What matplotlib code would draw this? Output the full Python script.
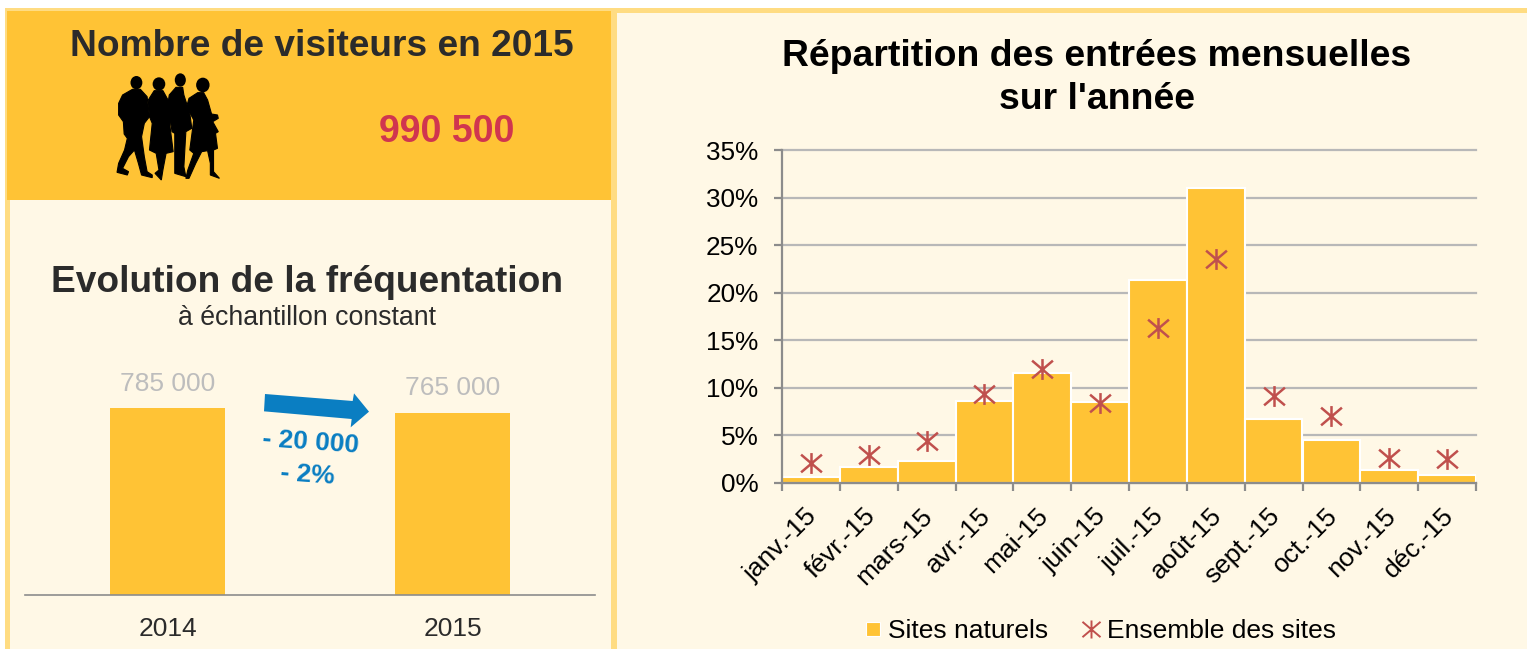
import matplotlib
matplotlib.use('Agg')
import matplotlib.pyplot as plt
from matplotlib.lines import Line2D
from matplotlib.patches import Ellipse, Polygon, Rectangle
from matplotlib.path import Path
from matplotlib.transforms import ScaledTranslation

plt.rcParams['font.family'] = ['Liberation Sans', 'DejaVu Sans']

# Data
months = ['janv.-15', 'févr.-15', 'mars-15', 'avr.-15', 'mai-15', 'juin-15',
          'juil.-15', 'août-15', 'sept.-15', 'oct.-15', 'nov.-15', 'déc.-15']
sites_naturels = [0.6, 1.7, 2.3, 8.6, 11.6, 8.5, 21.3, 31.0, 6.7, 4.5, 1.35, 0.85]
ensemble_sites = [2.05, 2.95, 4.4, 9.35, 12.0, 8.4, 16.3, 23.5, 9.15, 7.0, 2.6, 2.5]
years = ['2014', '2015']
frequentation = [785000, 765000]
freq_labels = ['785 000', '765 000']

W, H = 1527, 649
ORANGE = '#FFC335'
CREAM = '#FFF8E6'
BORDER = '#FFDC82'
DARK = '#2B2B2B'
BLUE = '#0A7EC2'
RED = '#C0504D'

# Star marker: an X with a vertical stroke through it
star = Path([(0, -1), (0, 1), (-1, -0.85), (1, 0.85), (-1, 0.85), (1, -0.85)],
            [Path.MOVETO, Path.LINETO] * 3)

fig = plt.figure(figsize=(W / 100, H / 100), dpi=100, facecolor='white')


def axes_px(x0, y0, x1, y1):
    # y0 is the top edge, y1 the bottom edge, in picture pixels
    return fig.add_axes([x0 / W, 1 - y1 / H, (x1 - x0) / W, (y1 - y0) / H])


# Background layer drawn in picture pixels
bg = fig.add_axes([0, 0, 1, 1])
bg.set_xlim(0, W)
bg.set_ylim(H, 0)
bg.axis('off')
bg.add_patch(Rectangle((5, 8), W - 5, H - 8, fc=BORDER, ec='none'))
bg.add_patch(Rectangle((10, 200), 601, H - 200, fc=CREAM, ec='none'))
bg.add_patch(Rectangle((7, 11), 604, 189, fc=ORANGE, ec='none'))
bg.add_patch(Rectangle((617, 13), W - 617, H - 13, fc=CREAM, ec='none'))

# Silhouette of the four visitors, outlines traced in a zoomed crop
SX, SY = 2.529, 3.0
heads = [(345, 248, 15, 20), (402, 252, 16, 20), (456, 240, 14, 20), (513, 255, 17, 22)]
bodies = [
    [(335, 268), (310, 285), (300, 310), (300, 345), (312, 365), (314, 402), (322, 415),
     (315, 450), (300, 490), (296, 517), (322, 525), (325, 515), (310, 505), (325, 470),
     (340, 450), (350, 490), (358, 525), (385, 533), (385, 525), (372, 515), (365, 470),
     (358, 410), (365, 370), (378, 350), (372, 290), (355, 268)],
    [(390, 272), (375, 300), (378, 350), (385, 370), (378, 450), (395, 460), (402, 510),
     (392, 520), (408, 540), (412, 510), (420, 460), (438, 455), (430, 380), (432, 345),
     (425, 300), (412, 272)],
    [(445, 262), (428, 285), (425, 310), (435, 395), (442, 400), (442, 520), (470, 530),
     (465, 500), (470, 395), (485, 385), (480, 340), (465, 285), (462, 262)],
    [(500, 278), (478, 295), (472, 320), (490, 360), (480, 450), (490, 460), (475, 510),
     (470, 535), (478, 535), (495, 490), (510, 455), (525, 452), (532, 490), (532, 525),
     (555, 535), (540, 515), (540, 450), (550, 445), (545, 400), (552, 395), (538, 365),
     (552, 355), (550, 345), (535, 342), (525, 300), (515, 278)],
]
for cx, cy, rx, ry in heads:
    bg.add_patch(Ellipse((cx / SX, cy / SY), 2 * rx / SX, 2 * ry / SY, fc='black', ec='none'))
for body in bodies:
    bg.add_patch(Polygon([(x / SX, y / SY) for x, y in body], fc='black', ec='black', lw=0.8))

# Arrow between the two bars
arrow = [(75, 72), (338, 93), (342, 70), (387, 125), (332, 172), (335, 147), (72, 124)]
bg.add_patch(Polygon([(240 + x / 3, 370 + y / 3) for x, y in arrow], fc=BLUE, ec='none'))

# Left panel texts
bg.text(321.5, 47, 'Nombre de visiteurs en 2015', fontsize=26.7, fontweight='bold',
        color=DARK, ha='center', va='center')
bg.text(447, 132, '990 500', fontsize=27, fontweight='bold', color='#D0354F',
        ha='center', va='center')
bg.text(307, 283, 'Evolution de la fréquentation', fontsize=26.7, fontweight='bold',
        color=DARK, ha='center', va='center')
bg.text(307, 318, 'à échantillon constant', fontsize=19.2, color=DARK,
        ha='center', va='center')
bg.text(311, 442, '- 20 000', fontsize=19, fontweight='bold', color=BLUE,
        ha='center', va='center', rotation=-4)
bg.text(308, 475, '- 2%', fontsize=19, fontweight='bold', color=BLUE,
        ha='center', va='center', rotation=-4)
bg.text(1097, 78, "Répartition des entrées mensuelles\nsur l'année", fontsize=26.9,
        fontweight='bold', color='black', ha='center', va='center', linespacing=1.3)

# Left bar chart: 187 px for the 2014 value
top_val = 1030000
ax_left = axes_px(25, 595 - top_val * 187 / 785000, 595, 595)
ax_left.patch.set_visible(False)
ax_left.bar(range(len(years)), frequentation, width=0.4035, color=ORANGE)
ax_left.set_xlim(-0.5, 1.5)
ax_left.set_ylim(0, top_val)
ax_left.set_xticks(range(len(years)), years)
ax_left.set_yticks([])
ax_left.tick_params(axis='x', length=0, pad=15.5, labelsize=19, labelcolor=DARK)
for s in ['top', 'left', 'right']:
    ax_left.spines[s].set_visible(False)
ax_left.spines['bottom'].set_color('#8C8C8C')
ax_left.spines['bottom'].set_linewidth(1.2)
for i, lab in enumerate(freq_labels):
    ax_left.annotate(lab, (i, frequentation[i]), xytext=(0, 9), textcoords='offset points',
                     ha='center', va='bottom', fontsize=19, color='#BDBDBD')

# Right chart
ax = axes_px(782, 150, 1476, 483)
ax.patch.set_visible(False)
x = range(len(months))
ax.bar(x, sites_naturels, width=1.0, color=ORANGE, edgecolor='white', linewidth=1.5, zorder=2)
ax.plot(x, ensemble_sites, ls='none', marker=star, ms=15, mew=1.8, mfc='none', color=RED,
        zorder=3, clip_on=False)
ax.set_xlim(-0.5, 11.5)
ax.set_ylim(0, 35)
ax.set_yticks(range(0, 36, 5), [f'{v}%' for v in range(0, 36, 5)])
ax.set_xticks([i - 0.5 for i in range(13)])
ax.set_xticklabels([])
ax.set_xticks(list(x), months, minor=True)
ax.tick_params(axis='y', length=6, width=1.6, color='#8C8C8C', labelsize=18.8, pad=11)
ax.tick_params(axis='x', which='major', length=6, width=1.6, color='#8C8C8C')
ax.tick_params(axis='x', which='minor', length=0, labelsize=19, pad=15)
shift = ScaledTranslation(-6 / 100, 0, fig.dpi_scale_trans)
for lab in ax.get_xticklabels(minor=True):
    lab.set_rotation(45)
    lab.set_ha('right')
    lab.set_rotation_mode('anchor')
    lab.set_transform(lab.get_transform() + shift)
ax.grid(axis='y', color='#B8B8B8', lw=1.6, zorder=1, clip_on=False)
ax.set_axisbelow(True)
for s in ['top', 'right']:
    ax.spines[s].set_visible(False)
for s in ['left', 'bottom']:
    ax.spines[s].set_color('#8C8C8C')
    ax.spines[s].set_linewidth(1.6)

handles = [
    Line2D([], [], ls='none', marker='s', ms=9.5, color=ORANGE, mec='white', mew=0.8),
    Line2D([], [], ls='none', marker=star, ms=13, mew=1.4, mfc='none', color=RED),
]
fig.legend(handles, ['Sites naturels', 'Ensemble des sites'], ncol=2, frameon=False,
           fontsize=19, loc='center', bbox_to_anchor=(1097.5 / W, 1 - 631 / H),
           handlelength=1.0, handletextpad=0.1, columnspacing=1.1)

fig.savefig('out.png', dpi=100, facecolor='white')
